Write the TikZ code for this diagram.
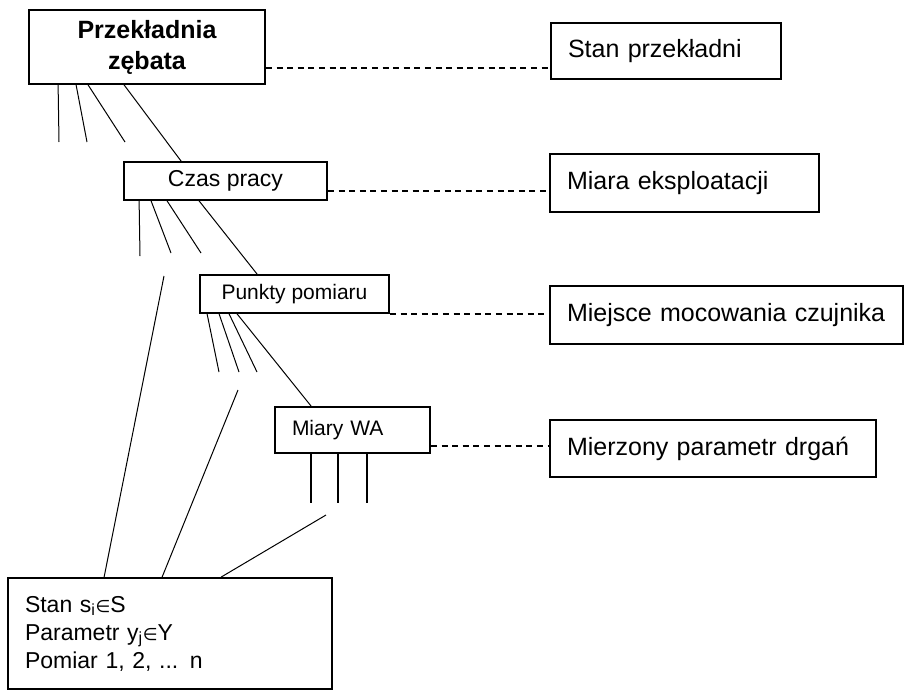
\documentclass[tikz,border=0pt]{standalone}
\usepackage{fontspec}
\setmainfont{Liberation Sans}
\newfontfamily\symfont{DejaVu Sans}
\newcommand{\elem}{{\symfont\fontsize{17}{20}\selectfont ∈}}
\usetikzlibrary{calc}

\tikzset{
	lvlbox/.style={draw, line width=1.8pt, inner sep=0pt},
	descbox/.style={draw, line width=1.8pt, inner xsep=17pt, inner ysep=0pt, align=left},
	branch/.style={line width=1pt},
	stub/.style={line width=2pt},
	dashedlink/.style={line width=1.5pt, dash pattern=on 6pt off 4.6pt}
}

\begin{document}
\begin{tikzpicture}[x=1pt,y=-1pt]
		\useasboundingbox (0,0) rectangle (905,691);
		
		%levels of the tree
		\node[lvlbox, minimum width=236pt, minimum height=74pt, align=center, font=\bfseries\fontsize{25}{31}\selectfont] (gear) at (147,47) {Przekładnia\\zębata};
		\node[lvlbox, minimum width=203pt, minimum height=38pt, font=\fontsize{23}{26}\selectfont] (czas) at (225.5,181) {Czas pracy};
		\node[lvlbox, minimum width=189pt, minimum height=38pt, font=\fontsize{21}{25}\selectfont] (punkty) at (294.5,294) {Punkty pomiaru};
		\node[descbox, text width=121pt, minimum height=46pt, font=\fontsize{21}{25}\selectfont] (miary) at (352.5,430) {Miary WA};
		\node[descbox, text width=290pt, minimum height=111pt, font=\fontsize{23}{28}\selectfont] (stan) at (170,633.5) {Stan s\textsubscript{i}\elem S\\Parametr y\textsubscript{j}\elem Y\\Pomiar 1, 2, ... n};
		
		%descriptions
		\node[descbox, text width=196pt, minimum height=56pt, font=\fontsize{25}{30}\selectfont] (stanp) at (666,51) {Stan przekładni};
		\node[descbox, text width=235pt, minimum height=58pt, font=\fontsize{25}{30}\selectfont] (miara) at (684.5,183) {Miara eksploatacji};
		\node[descbox, text width=319pt, minimum height=58pt, font=\fontsize{25}{30}\selectfont] (miejsce) at (726.5,315) {Miejsce mocowania czujnika};
		\node[descbox, text width=292pt, minimum height=57pt, font=\fontsize{25}{30}\selectfont] (mierzony) at (713,448.5) {Mierzony parametr drgań};
		
		%dashed links
		\draw[dashedlink] ([yshift=-21pt]gear.east) -- ([yshift=-21pt]gear.east -| stanp.west);
		\draw[dashedlink] ([yshift=-10pt]czas.east) -- ([yshift=-10pt]czas.east -| miara.west);
		\draw[dashedlink] (punkty.south east) -- (punkty.south east -| miejsce.west);
		\draw[dashedlink] ([yshift=-16pt]miary.east) -- ([yshift=-16pt]miary.east -| mierzony.west);
		
		%branches of each level
		\foreach \dx/\ex/\ey in {30/59/142, 48/87/142, 60/125/142}
			\draw[branch] ($(gear.south west)+(\dx,0)$) -- (\ex,\ey);
		\foreach \dx/\ex/\ey in {16/140/256, 28/171/253, 44/201/253}
			\draw[branch] ($(czas.south west)+(\dx,0)$) -- (\ex,\ey);
		\foreach \dx/\ex/\ey in {8/219/372, 20/239/372, 30/257/372}
			\draw[branch] ($(punkty.south west)+(\dx,0)$) -- (\ex,\ey);
		\foreach \dx in {37,64,93}
			\draw[stub] ($(miary.south west)+(\dx,0)$) -- ++(0,49);
		
		%next level
		\draw[branch] ($(gear.south west)+(96,0)$) -- ($(czas.north west)+(58,0)$);
		\draw[branch] ($(czas.south west)+(76,0)$) -- ($(punkty.north west)+(58,0)$);
		\draw[branch] ($(punkty.south west)+(38,0)$) -- ($(miary.north west)+(37,0)$);
		
		%to the bottom
		\foreach \sx/\sy/\dx in {164/276/97, 238/390/155, 326/515/214}
			\draw[branch] (\sx,\sy) -- ($(stan.north west)+(\dx,0)$);
		
\end{tikzpicture}
\end{document}
